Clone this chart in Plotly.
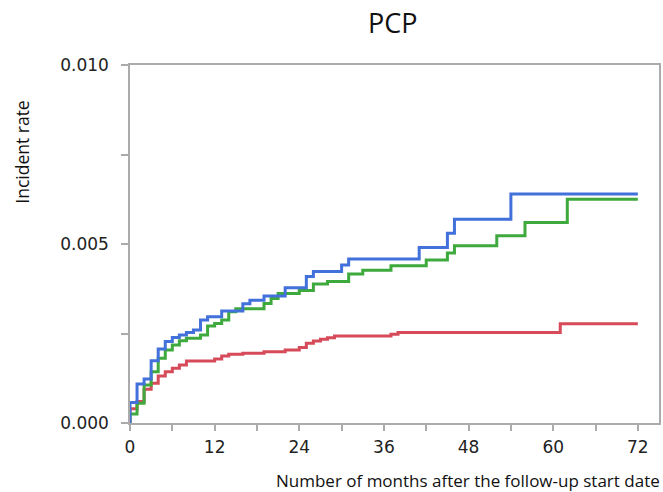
import plotly.graph_objects as go

# Cumulative incidence of PCP by months since follow-up start (step curves)
blue_months = [0, 0, 1, 2, 3, 4, 5, 6, 7, 8, 9, 10, 11, 13, 16, 17, 19, 22, 25, 26,
               30, 31, 41, 45, 46, 54, 72]
blue_rate = [0, 0.00057, 0.00109, 0.00123, 0.00174, 0.00207, 0.00228, 0.00239, 0.00246,
             0.00253, 0.00260, 0.00288, 0.00297, 0.00313, 0.00333, 0.00343, 0.00355,
             0.00378, 0.00409, 0.00423, 0.00441, 0.00458, 0.00490, 0.00530, 0.00569,
             0.00640, 0.00640]

green_months = [0, 0, 1, 2, 3, 4, 5, 6, 7, 8, 10, 11, 12, 13, 14, 15, 19, 20, 21, 24,
                26, 28, 31, 33, 37, 42, 45, 46, 52, 56, 62, 72]
green_rate = [0, 0.00025, 0.00055, 0.00106, 0.00143, 0.00181, 0.00204, 0.00218, 0.00230,
              0.00237, 0.00246, 0.00271, 0.00278, 0.00288, 0.00311, 0.00319, 0.00334,
              0.00348, 0.00362, 0.00370, 0.00388, 0.00395, 0.00416, 0.00427, 0.00439,
              0.00455, 0.00475, 0.00495, 0.00523, 0.00560, 0.00625, 0.00625]

red_months = [0, 0, 1, 2, 3, 4, 5, 6, 7, 8, 12, 13, 14, 16, 19, 22, 24, 25, 26, 27, 28,
              29, 37, 38, 61, 72]
red_rate = [0, 0.00040, 0.00060, 0.00094, 0.00111, 0.00131, 0.00143, 0.00153, 0.00162,
            0.00173, 0.00179, 0.00187, 0.00192, 0.00195, 0.00199, 0.00204, 0.00211,
            0.00223, 0.00229, 0.00234, 0.00238, 0.00243, 0.00248, 0.00253, 0.00277,
            0.00277]

x_ticks = list(range(0, 73, 6))
x_labels = [str(v) if v % 12 == 0 else "" for v in x_ticks]
y_ticks = [0, 0.0025, 0.005, 0.0075, 0.010]
y_labels = ["0.000", "", "0.005", "", "0.010"]

series = [
    (red_months, red_rate, "#D64A5A"),
    (green_months, green_rate, "#3EAA3E"),
    (blue_months, blue_rate, "#4271DB"),
]

fig = go.Figure()
for xs, ys, col in series:
    fig.add_trace(go.Scatter(x=xs, y=ys, mode="lines",
                             line=dict(color=col, width=3, shape="hv"),
                             showlegend=False, hoverinfo="skip"))

axis_col = "#ABABAB"
tick_font = dict(family="DejaVu Sans", size=17, color="#222222")
fig.update_layout(
    width=663, height=492,
    margin=dict(l=130, r=2, t=65, b=69),
    paper_bgcolor="white", plot_bgcolor="white",
    xaxis=dict(range=[0, 75], tickmode="array", tickvals=x_ticks, ticktext=x_labels,
               ticks="outside", ticklen=6, tickcolor=axis_col, tickwidth=1.5,
               showline=True, linecolor=axis_col, linewidth=1.5, mirror=True,
               showgrid=False, zeroline=False, ticklabelstandoff=2,
               tickfont=tick_font),
    yaxis=dict(range=[0, 0.010], tickmode="array", tickvals=y_ticks, ticktext=y_labels,
               ticks="outside", ticklen=7, tickcolor=axis_col, tickwidth=1.5,
               showline=True, linecolor=axis_col, linewidth=1.5, mirror=True,
               showgrid=False, zeroline=False, ticklabelstandoff=9,
               tickfont=tick_font),
    annotations=[
        dict(text="PCP", xref="paper", yref="paper", x=0.497, y=1.0, yshift=22,
             xanchor="center", yanchor="bottom", showarrow=False,
             font=dict(family="Open Sans", size=27, color="#111111")),
        dict(text="Number of months after the follow-up start date", xref="paper",
             yref="paper", x=1.0, xshift=3, y=0, yshift=-44, xanchor="right",
             yanchor="top", showarrow=False,
             font=dict(family="Open Sans", size=17, color="#111111")),
        dict(text="Incident rate", xref="paper", yref="paper", x=0, xshift=-108,
             y=0.755, textangle=-90, xanchor="center", yanchor="middle",
             showarrow=False, font=dict(family="Open Sans", size=17.5, color="#111111")),
    ],
)

fig.write_html("out.html")
